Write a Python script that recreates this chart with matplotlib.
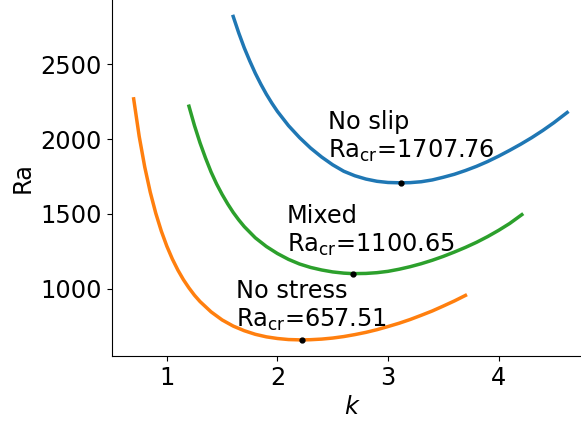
import matplotlib
matplotlib.use("Agg")
import matplotlib.pyplot as plt

# Courbes de stabilité marginale Ra(k) pour les trois conditions aux limites
k_noslip = [1.60, 1.65, 1.70, 1.75, 1.80, 1.85, 1.90, 1.95, 2.00, 2.10, 2.20,
            2.30, 2.40, 2.50, 2.60, 2.70, 2.80, 2.90, 3.00, 3.117, 3.20, 3.30,
            3.40, 3.50, 3.60, 3.70, 3.80, 3.90, 4.00, 4.10, 4.20, 4.30, 4.40,
            4.50, 4.62]
ra_noslip = [2820, 2710, 2610, 2522, 2440, 2367, 2300, 2240, 2185, 2090, 2010,
             1940, 1880, 1828, 1785, 1755, 1733, 1718, 1710, 1707.76, 1709, 1715,
             1727, 1745, 1765, 1790, 1818, 1850, 1886, 1925, 1966, 2010, 2058,
             2110, 2178]

k_nostress = [0.70, 0.75, 0.80, 0.85, 0.90, 0.95, 1.00, 1.05, 1.10, 1.15, 1.20,
              1.25, 1.30, 1.40, 1.50, 1.60, 1.70, 1.80, 1.90, 2.00, 2.10, 2.221,
              2.30, 2.40, 2.50, 2.60, 2.70, 2.80, 2.90, 3.00, 3.10, 3.20, 3.30,
              3.40, 3.50, 3.60, 3.70]
ra_nostress = [2269, 2018, 1814, 1645, 1504, 1385, 1284, 1198, 1124, 1060, 1005,
               956, 914, 845, 791, 750, 719, 695, 678, 667, 660, 657.51,
               659, 663, 670, 680, 693, 708, 726, 747, 769, 794, 822,
               851, 884, 918, 955]

k_mixed = [1.20, 1.25, 1.30, 1.35, 1.40, 1.45, 1.50, 1.55, 1.60, 1.65, 1.70,
           1.80, 1.90, 2.00, 2.10, 2.20, 2.30, 2.40, 2.50, 2.60, 2.682, 2.80,
           2.90, 3.00, 3.10, 3.20, 3.30, 3.40, 3.50, 3.60, 3.70, 3.80, 3.90,
           4.00, 4.10, 4.21]
ra_mixed = [2220, 2090, 1975, 1873, 1780, 1700, 1630, 1567, 1510, 1460, 1415,
            1340, 1282, 1235, 1196, 1165, 1142, 1125, 1112, 1104, 1100.65, 1102,
            1107, 1116, 1130, 1147, 1167, 1190, 1216, 1245, 1276, 1310, 1348,
            1390, 1436, 1495]

# minimums (k_cr, Ra_cr)
kcr_noslip, racr_noslip = 3.117, 1707.76
kcr_nostress, racr_nostress = 2.221, 657.51
kcr_mixed, racr_mixed = 2.682, 1100.65

fs = 17.3
fig = plt.figure(figsize=(5.81, 4.21), dpi=100)
ax = fig.add_axes([0.192, 0.1544, 0.828, 0.8456])

ax.plot(k_noslip, ra_noslip, color="C0", lw=2.5)
ax.plot(k_nostress, ra_nostress, color="C1", lw=2.5)
ax.plot(k_mixed, ra_mixed, color="C2", lw=2.5)

for kc, rc in [(kcr_noslip, racr_noslip), (kcr_nostress, racr_nostress),
               (kcr_mixed, racr_mixed)]:
    ax.plot(kc, rc, "o", color="black", markersize=3.5)

ax.text(2.46, 2195, "No slip\nRa$_{\\mathrm{cr}}$=%.2f" % racr_noslip,
        fontsize=fs, va="top", ha="left")
ax.text(2.085, 1568, "Mixed\nRa$_{\\mathrm{cr}}$=%.2f" % racr_mixed,
        fontsize=fs, va="top", ha="left")
ax.text(1.627, 1068, "No stress\nRa$_{\\mathrm{cr}}$=%.2f" % racr_nostress,
        fontsize=fs, va="top", ha="left")

ax.set_xlim(0.5, 4.85)
ax.set_ylim(550, 2930)
ax.set_xticks([1, 2, 3, 4])
ax.set_yticks([1000, 1500, 2000, 2500])
ax.tick_params(labelsize=fs)
ax.set_xlabel("$k$", fontsize=fs)
ax.set_ylabel("Ra", fontsize=fs)
ax.spines["top"].set_visible(False)
ax.spines["right"].set_visible(False)

fig.savefig("out.png", dpi=100)
